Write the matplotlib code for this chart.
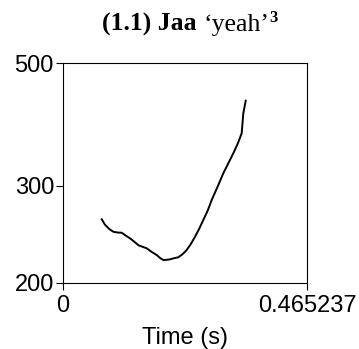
import matplotlib
matplotlib.use('Agg')
import matplotlib.pyplot as plt
import numpy as np

# pitch track (time in s, f0 in Hz)
time_s = [0.0738, 0.0800, 0.0880, 0.0959, 0.1040, 0.1119, 0.1200, 0.1278, 0.1360,
          0.1440, 0.1520, 0.1596, 0.1680, 0.1787, 0.1850, 0.1912, 0.1980, 0.2040,
          0.2120, 0.2198, 0.2280, 0.2359, 0.2440, 0.2517, 0.2600, 0.2675, 0.2760,
          0.2835, 0.2950, 0.3056, 0.3150, 0.3247, 0.3330, 0.3407, 0.3438, 0.3484]
f0_hz = [260.8, 255.0, 250.5, 247.6, 246.8, 246.6, 243.5, 240.9, 237.5,
         234.0, 232.5, 231.1, 228.0, 224.7, 222.0, 220.1, 220.3, 220.7,
         221.8, 222.6, 225.5, 229.5, 235.5, 242.5, 251.0, 260.0, 270.5,
         282.6, 299.0, 315.8, 329.0, 343.3, 357.0, 373.1, 405.5, 427.4]

x_ticks = [0, 0.465237]
x_tick_labels = ['0', '0.465237']
y_ticks = [200, 300, 500]
y_tick_labels = ['200', '300', '500']

# title pieces: (text, weight, size)
title_parts = [('(1.1) Jaa ', 'bold', 18.5), ('\u2018yeah\u2019', 'normal', 18.5), ('3', 'bold', 12)]

plt.rcParams['font.family'] = 'Liberation Sans'

fig = plt.figure(figsize=(3.59, 3.49), dpi=100)
ax = fig.add_axes([63/359, 1 - 283/349, 244/359, 220/349])

ax.plot(time_s, f0_hz, color='black', lw=1.4)
ax.set_yscale('log')
ax.set_xlim(0, 0.465237)
ax.set_ylim(200, 500)
ax.set_xticks(x_ticks)
ax.set_xticklabels(x_tick_labels)
ax.set_yticks(y_ticks)
ax.set_yticklabels(y_tick_labels)
ax.minorticks_off()
ax.tick_params(labelsize=17, length=5, width=0.8, direction='out')
ax.tick_params(axis='y', pad=1.5)
ax.tick_params(axis='x', pad=3.5)
for s in ax.spines.values():
	s.set_linewidth(0.8)
ax.set_xlabel('Time (s)', fontsize=17, labelpad=7)

# lay title pieces side by side, then centre the whole row
fig.canvas.draw()
r = fig.canvas.get_renderer()
x = 0
texts = []
for txt, wt, sz in title_parts:
	sup = txt == '3'
	t = fig.text(x, 349 - 31 + (9 if sup else 0), txt, transform=None, ha='left', va='baseline',
	             fontsize=sz, fontweight=wt, family='Liberation Serif')
	texts.append(t)
	x += t.get_window_extent(r).width
shift = 190 - x / 2
for t in texts:
	px, py = t.get_position()
	t.set_position((px + shift, py))

fig.savefig('out.png', dpi=100)
